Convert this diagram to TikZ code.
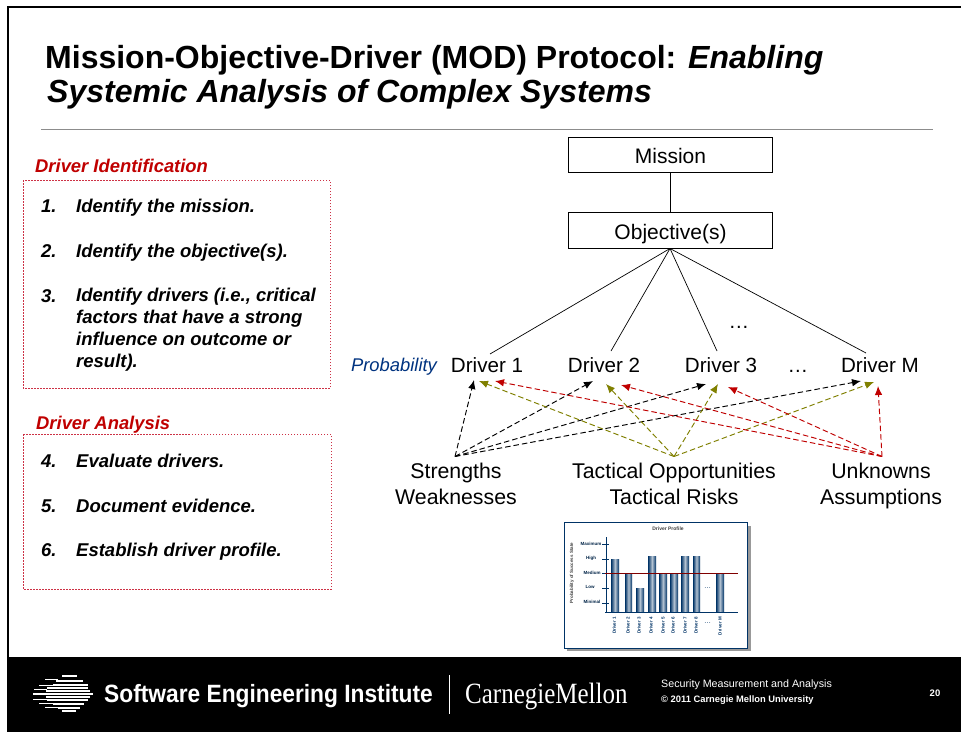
\documentclass[tikz,border=0pt]{standalone}
\usepackage{fontspec}
\setmainfont{Liberation Sans}
\newfontfamily\cmfont[FakeStretch=0.85]{Liberation Serif}
\newfontfamily\seifont[FakeStretch=0.91]{Liberation Sans}
\usetikzlibrary{arrows.meta}
\definecolor{sered}{RGB}{192,0,0}
\definecolor{seboxred}{RGB}{205,50,70}
\definecolor{seblue}{RGB}{0,51,128}
\definecolor{seolive}{RGB}{128,128,0}
\definecolor{barblue}{RGB}{0,51,102}
\newcommand{\fs}[1]{\fontsize{#1}{#1}\selectfont}
\tikzset{
 x=1pt,y=-1pt,
 box/.style={draw=black,line width=.8pt,fill=white,minimum width=203.6pt,minimum height=35.5pt,inner sep=0pt,font=\fs{21}},
 lbl/.style={inner sep=0pt,anchor=base,font=\fs{21.3}},
 drv/.style={inner sep=0pt,anchor=base,font=\fs{20.6}},
 link/.style={draw=black,line width=.7pt},
 da/.style={dash pattern=on 5.5pt off 3pt,line width=.95pt,-{Latex[length=9pt,width=7.5pt]}},
 redbox/.style={draw=seboxred,dash pattern=on 1.5pt off 1.5pt,line width=.9pt},
 head/.style={inner sep=0pt,anchor=base west,text=sered,font=\fs{18.4}\bfseries\itshape},
 item/.style={inner sep=0pt,anchor=base west,font=\fs{18.5}\bfseries\itshape},
 itemm/.style={inner sep=0pt,anchor=north west,align=left,font=\fontsize{18.5}{22}\selectfont\bfseries\itshape},
 tick/.style={inner sep=0pt,font=\fs{4.5}\bfseries,text=barblue!70!black},
 rot/.style={inner sep=0pt,rotate=90,anchor=east,font=\fs{4.5}\bfseries,text=barblue},
 bar/.style={left color=barblue,right color=barblue,middle color=white!70!barblue,draw=none},
 stripe/.style={fill=white},
}
\begin{document}
\begin{tikzpicture}
\useasboundingbox (0,0) rectangle (961,732);
\fill[white] (0,0) rectangle (961,732);
\fill[black] (7,6) rectangle (961,8);
\fill[black] (7,6) rectangle (9,732);
\fill[black] (7,657) rectangle (961,732);
\node[inner sep=0pt,anchor=base west,font=\fs{32}\bfseries] (t1) at (45,68) {Mission-Objective-Driver (MOD) Protocol: \textit{Enabling}};
\node[inner sep=0pt,anchor=base west,font=\fs{32}\bfseries\itshape] (t2) at (47,102) {Systemic Analysis of Complex Systems};
\draw[black!45,line width=.7pt] (41,129) -- (933,129);
% left
\node[head] (h1) at (35,172) {Driver Identification};
\draw[redbox] (23,180) rectangle (330,388);
\node[item] (n1) at (41,212) {1.};
\node[item] (i1) at (76,212) {Identify the mission.};
\node[item] (n2) at (41,257) {2.};
\node[item] (i2) at (76,257) {Identify the objective(s).};
\node[item] (n3) at (41,302) {3.};
\node[itemm] (i3) at (76,288) {Identify drivers (i.e., critical\\factors that have a strong\\influence on outcome or\\result).};
\node[head] (h2) at (36,429) {Driver Analysis};
\draw[redbox] (23,434) rectangle (331,589);
\node[item] (n4) at (41,467) {4.};
\node[item] (i4) at (76,467) {Evaluate drivers.};
\node[item] (n5) at (41,512) {5.};
\node[item] (i5) at (76,512) {Document evidence.};
\node[item] (n6) at (41,556) {6.};
\node[item] (i6) at (76,556) {Establish driver profile.};
% tree
\node[box,text height=17pt,text depth=1pt] (mission) at (670.5,155) {Mission};
\node[box,text height=17pt,text depth=0pt] (obj) at (670.5,230.5) {Objective(s)};
\draw[link] (mission) -- (obj);
\coordinate (top) at (670,248.5);
\node[inner sep=0pt,anchor=base,font=\fs{18.4}\itshape,text=seblue] (prob) at (394,371) {Probability};
\node[drv] (d1) at (487,372) {Driver 1};
\node[drv] (d2) at (604,372) {Driver 2};
\node[drv] (d3) at (721,372) {Driver 3};
\node[drv] (dd) at (798,372) {…};
\node[drv] (dm) at (880,372) {Driver M};
\node[drv] (de) at (739,328) {…};
\coordinate (e1) at (490,354);
\coordinate (e2) at (611,351);
\coordinate (e3) at (717,351);
\coordinate (em) at (866,353);
\foreach \e in {e1,e2,e3,em} \draw[link] (top) -- (\e);
\node[lbl] (s1) at (456,478) {Strengths};
\node[lbl] (s2) at (456,504) {Weaknesses};
\node[lbl] (o1) at (674,478) {Tactical Opportunities};
\node[lbl] (o2) at (674,504) {Tactical Risks};
\node[lbl] (u1) at (881,478) {Unknowns};
\node[lbl] (u2) at (881,504) {Assumptions};
\coordinate (S) at (455,456.5);
\coordinate (O) at (674,456.5);
\coordinate (U) at (882,456.5);
\foreach \a/\b in {474/380,593/381,706/384,861/381} \draw[da,black] (S) -- (\a,\b);
\foreach \a/\b in {479/381,606/384,718/384,874/382} \draw[da,seolive] (O) -- (\a,\b);
\foreach \a/\b in {495/381,621/385,728/387,878/386} \draw[da,sered] (U) -- (\a,\b);
% chart
\fill[black!40] (567,526) rectangle (751,651);
\draw[fill=white,draw=barblue,line width=1pt] (564,522) rectangle (747,648);
\node[inner sep=0pt,font=\fs{5}\bfseries,text=black!75] (ct) at (668,529) {Driver Profile};
\node[inner sep=0pt,rotate=90,font=\fs{4.5}\bfseries,text=black!75] (cy) at (572,573) {Probability of Success State};
\foreach \x/\w/\y in {611/8/559,625/7/573,636/8/588,648/8/556,659/8/573,670/8/573,681/8/556,693/7/556,716/8/573}
  \fill[bar] (\x,\y) rectangle (\x+\w,612);
\draw[barblue,line width=.8pt] (606,537) -- (606,612);
\draw[barblue,line width=.8pt] (605,612) -- (738,612);
\foreach \y in {544,559,573,588,603} \draw[barblue,line width=.7pt] (602,\y) -- (609,\y);
\draw[black!50!red,line width=.8pt] (605,573) -- (738,573);
\node[tick] (k1) at (591,544) {Maximum};
\node[tick] (k2) at (591,558) {High};
\node[tick] (k3) at (592,573) {Medium};
\node[tick] (k4) at (590,587) {Low};
\node[tick] (k5) at (592,602) {Minimal};
\foreach \x/\t in {614.3/Driver 1,628/Driver 2,639/Driver 3,651/Driver 4,663/Driver 5,673/Driver 6,685/Driver 7,696/Driver 8,720/Driver M}
  \node[rot] at (\x,617) {\t};
\node[inner sep=0pt,font=\fs{7},text=barblue] (c1) at (707.5,588) {…};
\node[inner sep=0pt,font=\fs{7},text=barblue] (c2) at (707.5,623) {…};
% footer logo
\foreach \y/\a/\b/\h in {676/62/77/1.2,679/45/58/.4,681/56/83/1.2,685/39/55/.4,685/53/88/1.1,688/47/88/1,689/34/47/.4,691/46/90/1,694/33/93/.6,697/46/90/1,699/33/47/.4,700/47/88/1,703/39/55/.4,704/53/84/1.2,707/45/58/.4,708/58/80/1,711/62/76/.9}
  \fill[stripe] (\a,\y-\h) rectangle (\b,\y+\h);
\node[inner sep=0pt,anchor=base west,text=white,font=\fs{25}\seifont\bfseries] (sei) at (104,702) {Software Engineering Institute};
\draw[white,line width=.5pt] (449.5,675) -- (449.5,714);
\node[inner sep=0pt,anchor=base west,text=white,font=\fs{29.4}\cmfont] (cmu) at (465,703) {CarnegieMellon};
\node[inner sep=0pt,anchor=base west,text=white,font=\fs{10.7}] (sma) at (661,687) {Security Measurement and Analysis};
\node[inner sep=0pt,anchor=base west,text=white,font=\fs{9.35}\bfseries] (copy) at (661,702) {© 2011 Carnegie Mellon University};
\node[inner sep=0pt,anchor=base,text=white,font=\fs{9.5}\bfseries] (pg) at (935,696) {20};
\end{tikzpicture}
\end{document}
